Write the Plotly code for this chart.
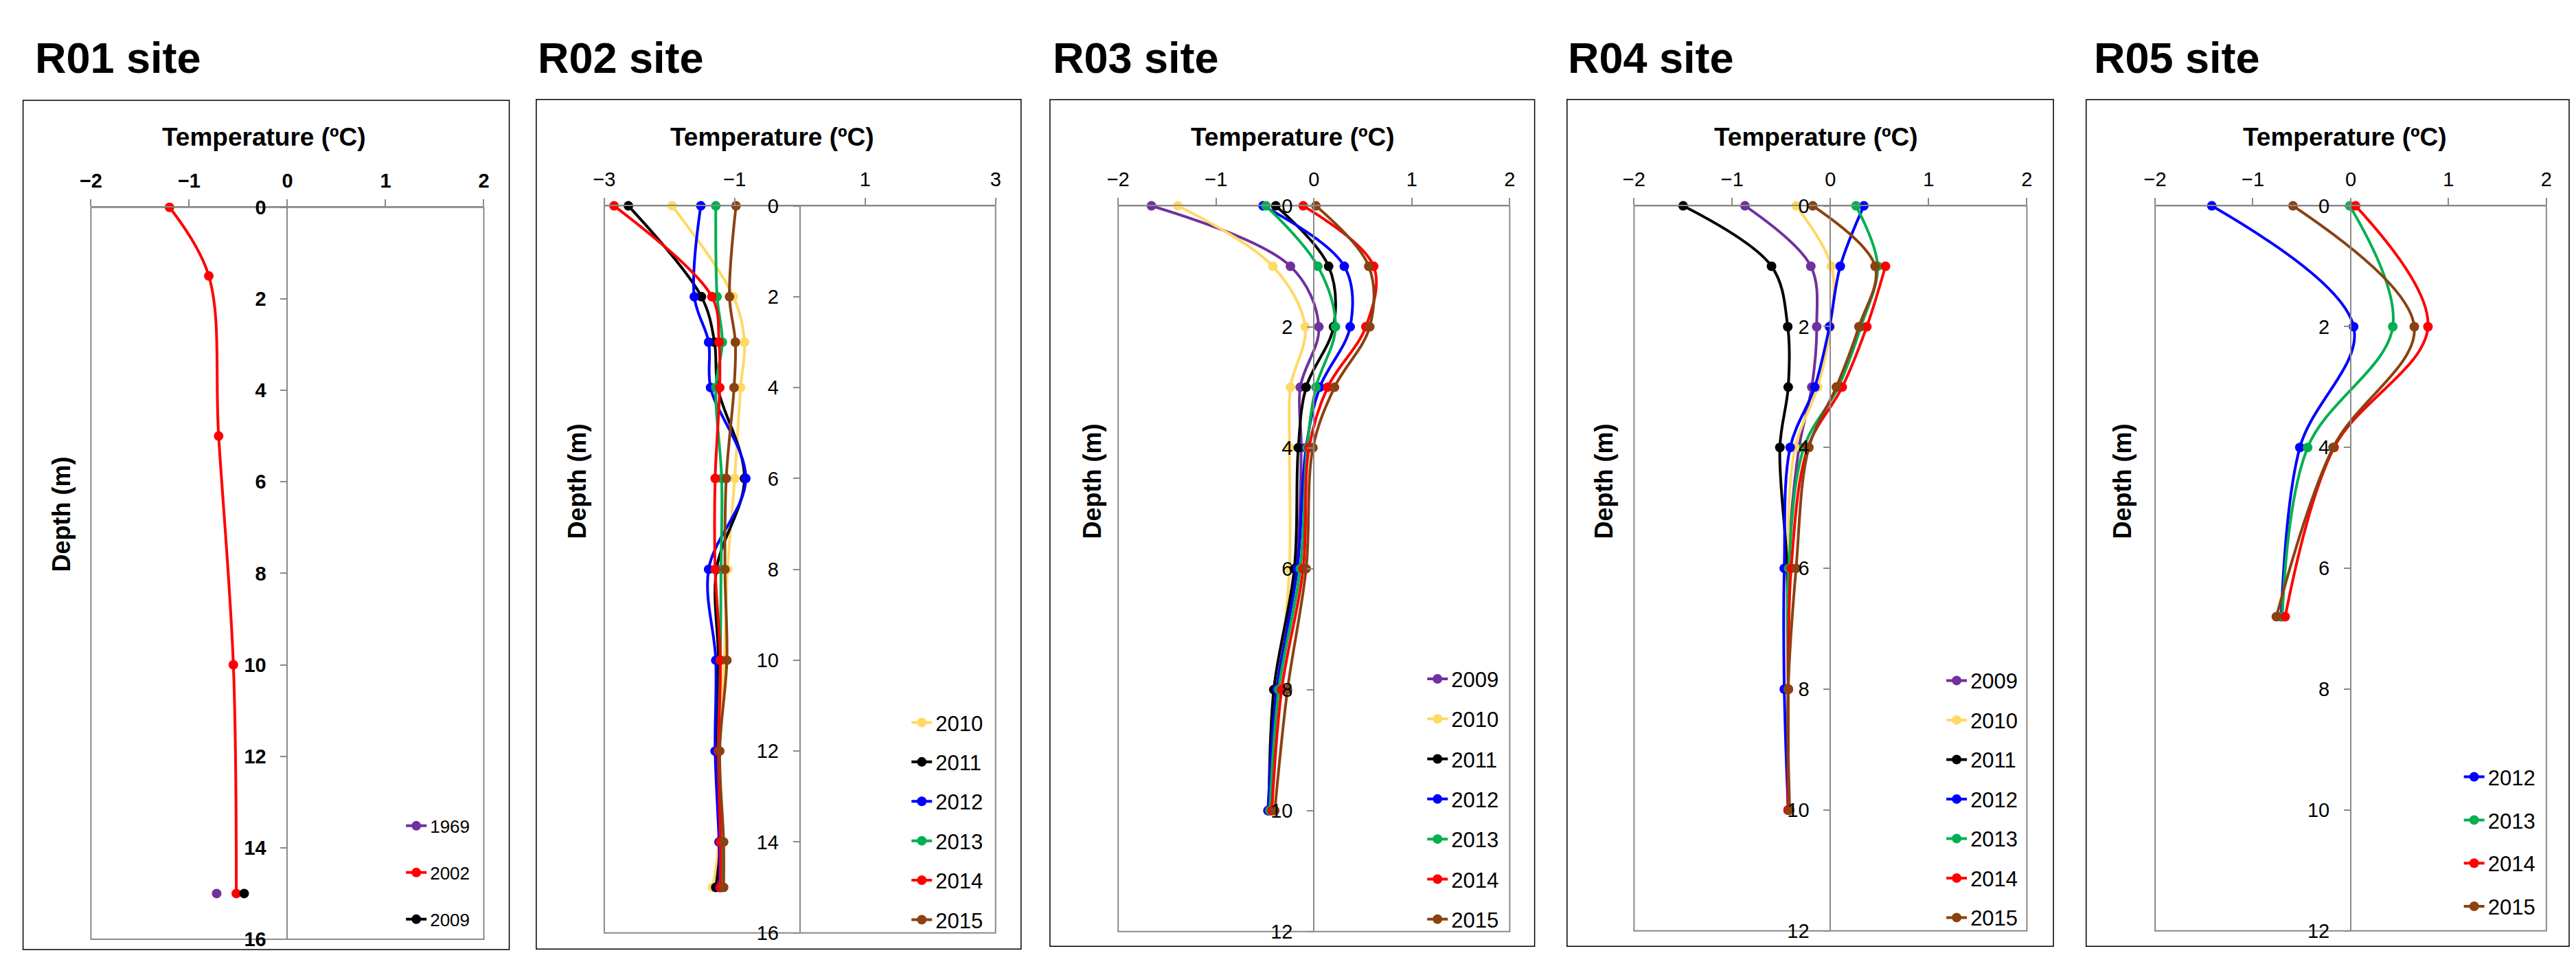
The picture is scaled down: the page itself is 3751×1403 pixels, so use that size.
import plotly.graph_objects as go

# ------------------------- DATA -------------------------
R01_DEPTH_1969 = [15]
R01_TEMP_1969 = [-0.72]
R01_DEPTH_2002 = [0, 1.5, 5, 10, 15]
R01_TEMP_2002 = [-1.20, -0.80, -0.70, -0.55, -0.52]
R01_DEPTH_2009 = [15]
R01_TEMP_2009 = [-0.44]

R02_DEPTH = [0, 2, 3, 4, 6, 8, 10, 12, 14, 15]
R02_2010 = [-1.96, -1.02, -0.85, -0.91, -1.00, -1.11, -1.16, -1.25, -1.24, -1.34]
R02_2011 = [-2.63, -1.51, -1.31, -1.26, -0.85, -1.28, -1.25, -1.28, -1.22, -1.29]
R02_2012 = [-1.52, -1.62, -1.40, -1.37, -0.83, -1.40, -1.29, -1.30, -1.24, -1.23]
R02_2013 = [-1.29, -1.27, -1.19, -1.29, -1.20, -1.21, -1.22, -1.25, -1.21, -1.20]
R02_2014 = [-2.85, -1.35, -1.24, -1.23, -1.30, -1.30, -1.22, -1.25, -1.22, -1.22]
R02_2015 = [-0.98, -1.08, -0.99, -1.01, -1.13, -1.15, -1.12, -1.23, -1.17, -1.17]

R03_DEPTH = [0, 1, 2, 3, 4, 6, 8, 10]
R03_2009 = [-1.66, -0.24, 0.05, -0.14, -0.13, -0.18, -0.38, -0.46]
R03_2010 = [-1.39, -0.42, -0.09, -0.24, -0.25, -0.25, -0.36, -0.45]
R03_2011 = [-0.39, 0.15, 0.20, -0.08, -0.16, -0.20, -0.41, -0.46]
R03_2012 = [-0.52, 0.31, 0.37, 0.06, -0.08, -0.17, -0.38, -0.47]
R03_2013 = [-0.49, 0.04, 0.22, 0.02, -0.07, -0.14, -0.36, -0.45]
R03_2014 = [-0.11, 0.61, 0.53, 0.14, -0.05, -0.11, -0.33, -0.43]
R03_2015 = [0.02, 0.56, 0.57, 0.21, -0.01, -0.08, -0.27, -0.40]

R04_DEPTH = [0, 1, 2, 3, 4, 6, 8, 10]
R04_2009 = [-0.87, -0.20, -0.14, -0.19, -0.32, -0.43, -0.43, -0.43]
R04_2010 = [-0.35, 0.01, 0.00, -0.13, -0.36, -0.44, -0.43, -0.43]
R04_2011 = [-1.50, -0.60, -0.435, -0.43, -0.515, -0.44, -0.43, -0.43]
R04_2012 = [0.34, 0.10, -0.01, -0.16, -0.41, -0.47, -0.47, -0.43]
R04_2013 = [0.26, 0.48, 0.31, 0.08, -0.27, -0.425, -0.43, -0.43]
R04_2014 = [None, 0.56, 0.37, 0.12, -0.23, -0.40, -0.43, -0.43]
R04_2015 = [-0.18, 0.455, 0.29, 0.06, -0.22, -0.35, -0.43, -0.415]

R05_DEPTH = [0, 2, 4, 6.8]
R05_2012 = [-1.42, 0.03, -0.52, -0.71]
R05_2013 = [-0.01, 0.43, -0.44, -0.70]
R05_2014 = [0.05, 0.79, -0.17, -0.67]
R05_2015 = [-0.59, 0.65, -0.18, -0.76]

PANEL_TITLES = ["R01 site", "R02 site", "R03 site", "R04 site", "R05 site"]
X_TICKS = [[-2, -1, 0, 1, 2], [-3, -1, 1, 3], [-2, -1, 0, 1, 2], [-2, -1, 0, 1, 2], [-2, -1, 0, 1, 2]]
X_RANGES = [[-2, 2], [-3, 3], [-2, 2], [-2, 2], [-2, 2]]
Y_MAX = [16, 16, 12, 12, 12]

PURPLE, YELLOW, BLACK, BLUE, GREEN, RED, BROWN = (
    "#7030A0", "#FFD966", "#000000", "#0000FF", "#00B050", "#FF0000", "#8A4212")

SERIES = [
    [("1969", R01_DEPTH_1969, R01_TEMP_1969, PURPLE),
     ("2002", R01_DEPTH_2002, R01_TEMP_2002, RED),
     ("2009", R01_DEPTH_2009, R01_TEMP_2009, BLACK)],
    [("2010", R02_DEPTH, R02_2010, YELLOW), ("2011", R02_DEPTH, R02_2011, BLACK),
     ("2012", R02_DEPTH, R02_2012, BLUE), ("2013", R02_DEPTH, R02_2013, GREEN),
     ("2014", R02_DEPTH, R02_2014, RED), ("2015", R02_DEPTH, R02_2015, BROWN)],
    [("2009", R03_DEPTH, R03_2009, PURPLE), ("2010", R03_DEPTH, R03_2010, YELLOW),
     ("2011", R03_DEPTH, R03_2011, BLACK), ("2012", R03_DEPTH, R03_2012, BLUE),
     ("2013", R03_DEPTH, R03_2013, GREEN), ("2014", R03_DEPTH, R03_2014, RED),
     ("2015", R03_DEPTH, R03_2015, BROWN)],
    [("2009", R04_DEPTH, R04_2009, PURPLE), ("2010", R04_DEPTH, R04_2010, YELLOW),
     ("2011", R04_DEPTH, R04_2011, BLACK), ("2012", R04_DEPTH, R04_2012, BLUE),
     ("2013", R04_DEPTH, R04_2013, GREEN), ("2014", R04_DEPTH, R04_2014, RED),
     ("2015", R04_DEPTH, R04_2015, BROWN)],
    [("2012", R05_DEPTH, R05_2012, BLUE), ("2013", R05_DEPTH, R05_2013, GREEN),
     ("2014", R05_DEPTH, R05_2014, RED), ("2015", R05_DEPTH, R05_2015, BROWN)],
]

# ------------------------- LAYOUT (pixels) -------------------------
W, H = 3751, 1403
FONT = "Liberation Sans, Arial, sans-serif"
GRAY = "#898989"

def fx(x):
    return x / W

def fy(y):
    return 1 - y / H

FRAMES = [(16.7, 133, 729.4, 1398), (769, 131.7, 1479.6, 1397), (1522, 132, 2232.5, 1393),
          (2280, 131.7, 2993, 1393), (3041, 132, 3749, 1393)]
PLOTS = [(116.2, 292.4, 692.1, 1382.5), (868.7, 290.2, 1442.3, 1373), (1622, 290.2, 2196, 1371),
         (2378.2, 290.2, 2954.1, 1370), (3142, 290.2, 3715.6, 1370)]
TITLE_X = [32.5, 769, 1524, 2279, 3050]
XTITLE_X = [370, 1115, 1878, 2645, 3420]
YTITLE = [(73, 750), (829, 700), (1584, 700), (2334, 700), (3094, 700)]
BOLD_TICKS = [True, False, False, False, False]
LEGENDS = [(613, 1208, 26, 68), (1354, 1054, 31, 57.4), (2110, 989, 31, 58.3),
           (2871, 991.5, 31, 57.5), (3629.6, 1135, 31, 62.8)]

fig = go.Figure()
layout = dict(width=W, height=H, margin=dict(l=0, r=0, t=0, b=0), autosize=False,
              paper_bgcolor="white", plot_bgcolor="white", showlegend=True,
              font=dict(family=FONT, color="black"))
shapes, annotations = [], []

for i in range(5):
    n = "" if i == 0 else str(i + 1)
    xa, ya, lg = "x" + n, "y" + n, "legend" + n
    px0, py0, px1, py1 = PLOTS[i]
    xr = X_RANGES[i]
    zero_px = px0 + (0 - xr[0]) / (xr[1] - xr[0]) * (px1 - px0)
    tickfont = dict(family=FONT, size=29, color="black",
                    weight="bold" if BOLD_TICKS[i] else "normal")
    layout["xaxis" + n] = dict(domain=[fx(px0), fx(px1)], range=xr, side="top", anchor=ya,
                               tickvals=X_TICKS[i], ticks="outside", ticklen=10, tickwidth=2,
                               tickcolor=GRAY, showline=True, linecolor=GRAY, linewidth=2,
                               showgrid=False, zeroline=False, tickfont=tickfont,
                               ticklabelstandoff=5)
    layout["yaxis" + n] = dict(domain=[fy(py1), fy(py0)], range=[Y_MAX[i], 0], anchor="free",
                               position=fx(zero_px), tickvals=list(range(0, Y_MAX[i] + 1, 2)),
                               ticks="outside", ticklen=9, tickwidth=2, tickcolor=GRAY,
                               showline=True, linecolor=GRAY, linewidth=2, showgrid=False,
                               zeroline=False, tickfont=tickfont, ticklabelstandoff=15)
    lx, ly, lfs, lsp = LEGENDS[i]
    item_h = lfs * 1.3 + 3
    layout[lg] = dict(x=fx(lx - 40), y=fy(ly - item_h / 2), xanchor="left", yanchor="top",
                      font=dict(family=FONT, size=lfs, color="black"), bgcolor="rgba(0,0,0,0)",
                      traceorder="grouped", tracegroupgap=max(lsp - item_h, 0), itemsizing="trace")
    shapes.append(dict(type="rect", xref=xa + " domain", yref=ya + " domain", x0=0, x1=1, y0=0, y1=1,
                       line=dict(color=GRAY, width=2), layer="below"))
    f0, g0, f1, g1 = FRAMES[i]
    shapes.append(dict(type="rect", xref="paper", yref="paper", x0=fx(f0), x1=fx(f1), y0=fy(g1), y1=fy(g0),
                       line=dict(color="black", width=1.5), layer="below"))
    annotations.append(dict(x=fx(TITLE_X[i]), y=fy(70), xref="paper", yref="paper", text=PANEL_TITLES[i],
                            showarrow=False, xanchor="left", yanchor="middle",
                            font=dict(family=FONT, size=63, color="black", weight="bold")))
    annotations.append(dict(x=fx(XTITLE_X[i]), y=fy(188), xref="paper", yref="paper",
                            text="Temperature (ºC)", showarrow=False, xanchor="center", yanchor="middle",
                            font=dict(family=FONT, size=37, color="black", weight="bold")))
    annotations.append(dict(x=fx(YTITLE[i][0]), y=fy(YTITLE[i][1]), xref="paper", yref="paper",
                            text="Depth (m)", textangle=-90, showarrow=False, xanchor="center",
                            yanchor="middle", font=dict(family=FONT, size=36, color="black", weight="bold")))
    for k, (name, depth, temp, color) in enumerate(SERIES[i]):
        fig.add_trace(go.Scatter(x=temp, y=depth, name=name, mode="lines+markers", xaxis=xa, yaxis=ya,
                                 legend=lg, legendgroup=f"p{i}_{name}",
                                 line=dict(color=color, width=4, shape="spline", smoothing=1.0),
                                 marker=dict(color=color, size=14), connectgaps=False,
                                 cliponaxis=False))

layout["shapes"] = shapes
layout["annotations"] = annotations
fig.update_layout(**layout)
fig.write_html("out.html", config={"displayModeBar": False},
               post_script="document.body.style.margin='0';document.body.style.padding='0';"
                           "document.documentElement.style.margin='0';")
